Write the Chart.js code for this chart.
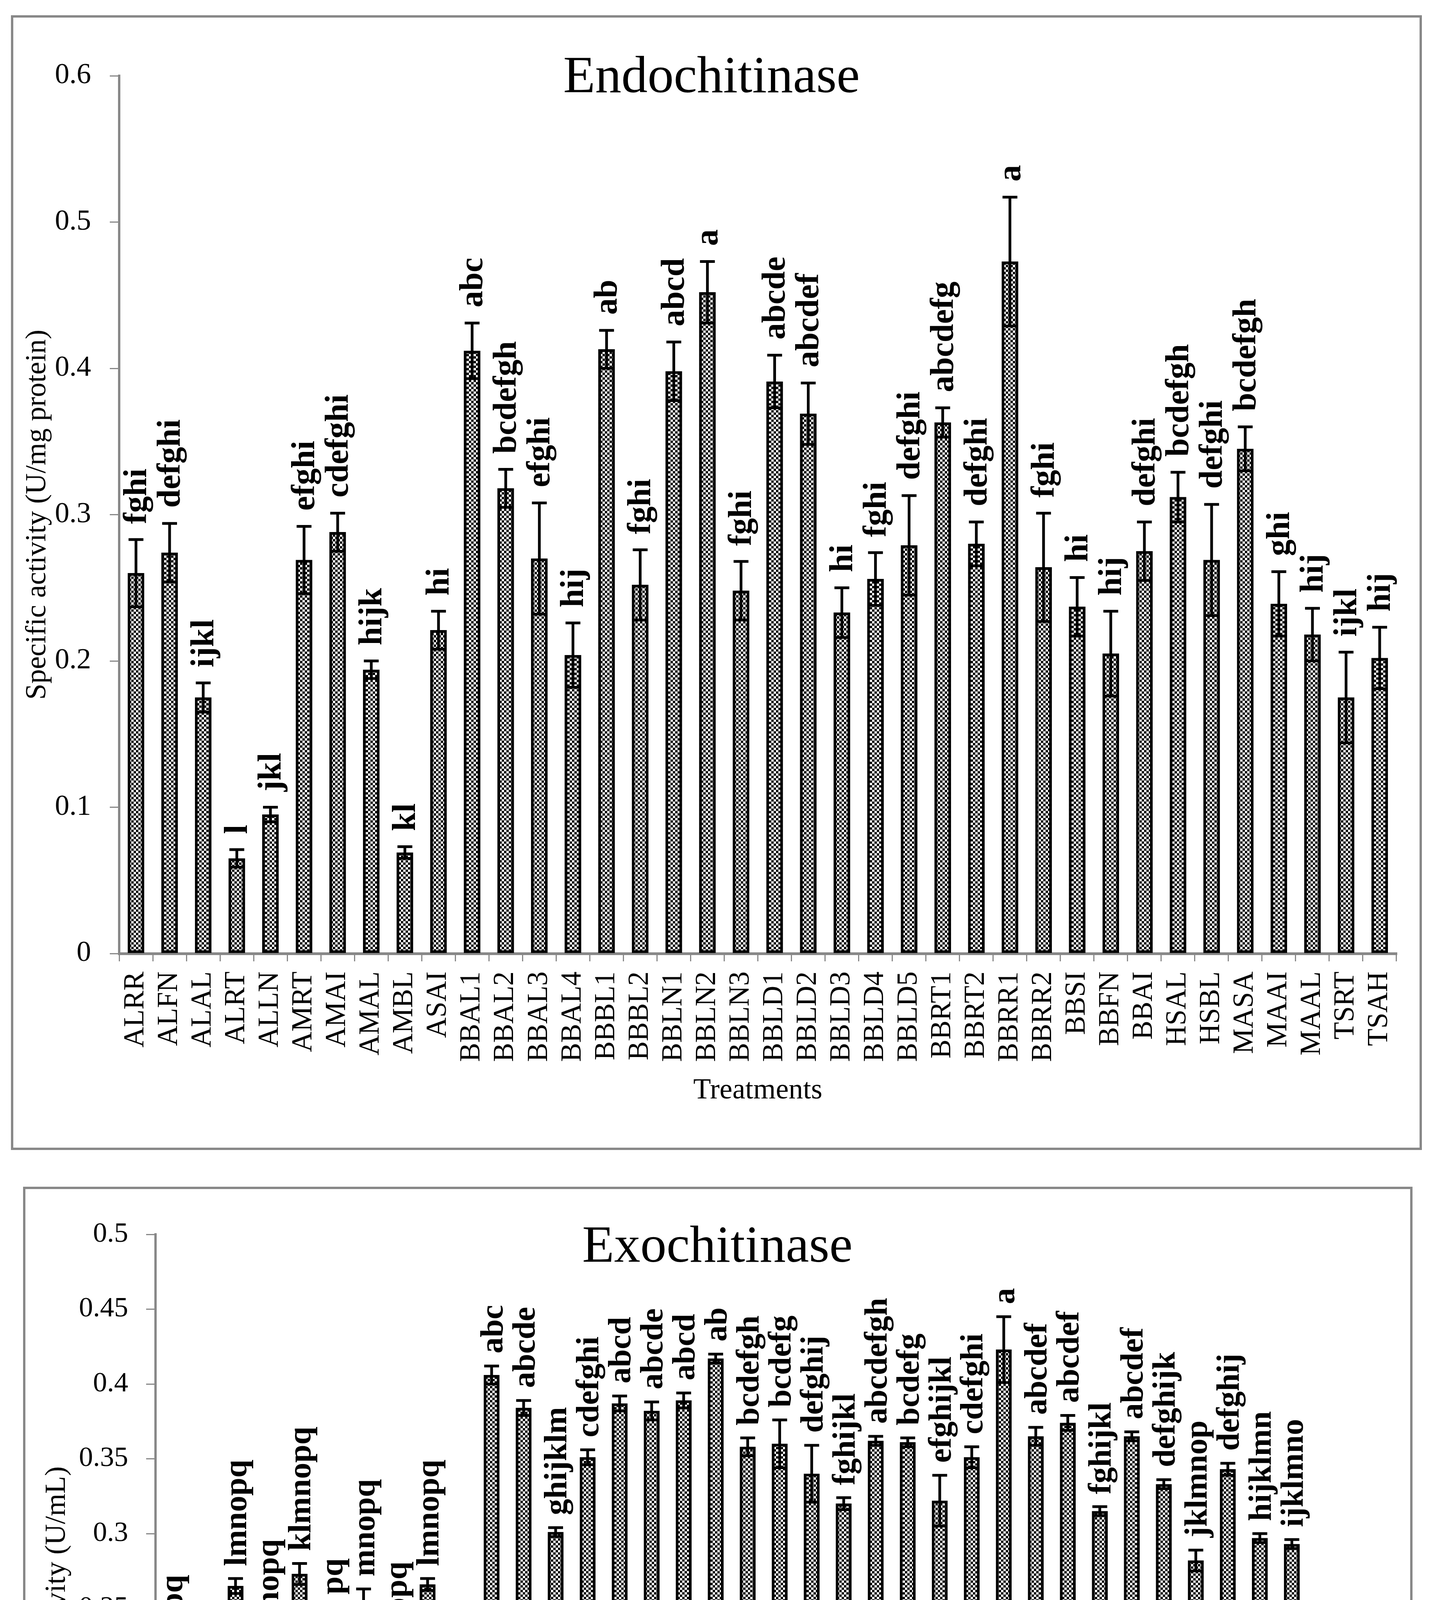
<!DOCTYPE html>
<html>
<head>
<meta charset="utf-8">
<script src="https://cdn.jsdelivr.net/npm/chart.js@4.4.1/dist/chart.umd.min.js"></script>
<style>
  body { margin: 0; background: #fff; width: 3670px; height: 5648px; position: relative; overflow: hidden; }
  #page { position: absolute; left: 0; top: 0; width: 3670px; height: 5648px; }
  canvas { position: absolute; left: 0; }
  .frame { position: absolute; border: 6px solid #888; box-sizing: border-box; pointer-events: none; }
</style>
</head>
<body>
<div id="page">
<div class="frame" style="left:28px;top:39px;width:3611px;height:2905px;"></div>
<div class="frame" style="left:59px;top:3038px;width:3556px;height:2578px;"></div>
<canvas id="endo" width="3670" height="2990" style="top:0;width:3670px;height:2990px;"></canvas>
<canvas id="exo" width="3670" height="2658" style="top:2990px;width:3670px;height:2658px;"></canvas>
</div>
<script>
// treatments (same order in both panels)
const treatments = ['ALRR','ALFN','ALAL','ALRT','ALLN','AMRT','AMAI','AMAL','AMBL','ASAI',
  'BBAL1','BBAL2','BBAL3','BBAL4','BBBL1','BBBL2','BBLN1','BBLN2','BBLN3',
  'BBLD1','BBLD2','BBLD3','BBLD4','BBLD5','BBRT1','BBRT2','BBRR1','BBRR2',
  'BBSI','BBFN','BBAI','HSAL','HSBL','MASA','MAAI','MAAL','TSRT','TSAH'];

// endochitinase, U/mg protein
const endoValues = [0.260, 0.274, 0.175, 0.065, 0.095, 0.269, 0.288, 0.194, 0.069, 0.221,
  0.412, 0.318, 0.270, 0.204, 0.413, 0.252, 0.398, 0.452, 0.248,
  0.391, 0.369, 0.233, 0.256, 0.279, 0.363, 0.280, 0.473, 0.264,
  0.237, 0.205, 0.275, 0.312, 0.269, 0.345, 0.239, 0.218, 0.175, 0.202];
const endoErrors = [0.023, 0.020, 0.010, 0.006, 0.005, 0.023, 0.013, 0.006, 0.004, 0.013,
  0.019, 0.013, 0.038, 0.022, 0.013, 0.024, 0.020, 0.021, 0.020,
  0.018, 0.021, 0.017, 0.018, 0.034, 0.010, 0.015, 0.044, 0.037,
  0.020, 0.029, 0.020, 0.017, 0.038, 0.015, 0.022, 0.018, 0.031, 0.021];
const endoLetters = ['fghi','defghi','ijkl','l','jkl','efghi','cdefghi','hijk','kl','hi',
  'abc','bcdefgh','efghi','hij','ab','fghi','abcd','a','fghi',
  'abcde','abcdef','hi','fghi','defghi','abcdefg','defghi','a','fghi',
  'hi','hij','defghi','bcdefgh','defghi','bcdefgh','ghi','hij','ijkl','hij'];
const endoTicks = ['0','0.1','0.2','0.3','0.4','0.5','0.6'];

// exochitinase, U/mL
const exoValues = [0.225, 0.217, 0.265, 0.237, 0.273, 0.230, 0.248, 0.232, 0.266, 0.077,
  0.406, 0.384, 0.301, 0.351, 0.387, 0.382, 0.389, 0.417, 0.358,
  0.360, 0.340, 0.320, 0.362, 0.361, 0.322, 0.351, 0.423, 0.365,
  0.374, 0.315, 0.365, 0.333, 0.282, 0.343, 0.297, 0.293, 0.117, 0.056];
const exoErrors = [0.015, 0.018, 0.005, 0.004, 0.007, 0.021, 0.015, 0.006, 0.004, 0.014,
  0.006, 0.005, 0.003, 0.005, 0.005, 0.006, 0.005, 0.003, 0.006,
  0.016, 0.019, 0.004, 0.003, 0.003, 0.017, 0.007, 0.022, 0.006,
  0.005, 0.003, 0.003, 0.003, 0.007, 0.004, 0.003, 0.003, 0.013, 0.022];
const exoLetters = ['pq','q','lmnopq','nopq','klmnopq','pq','mnopq','opq','lmnopq','r',
  'abc','abcde','ghijklm','cdefghi','abcd','abcde','abcd','ab','bcdefgh',
  'bcdefg','defghij','fghijkl','abcdefgh','bcdefg','efghijkl','cdefghi','a','abcdef',
  'abcdef','fghijkl','abcdef','defghijk','jklmnop','defghij','hijklmn','ijklmno','r','r'];
const exoTicks = ['0','0.05','0.1','0.15','0.2','0.25','0.3','0.35','0.4','0.45','0.5'];

const serif = 'Liberation Serif';

// checkered fill like the original bars
function checker() {
  const c = document.createElement('canvas');
  c.width = 12; c.height = 12;
  const g = c.getContext('2d');
  g.fillStyle = '#fff'; g.fillRect(0, 0, 12, 12);
  g.fillStyle = '#000'; g.fillRect(0, 0, 6, 6); g.fillRect(6, 6, 6, 6);
  return g.createPattern(c, 'repeat');
}

function makeChart(id, o) {
  const extras = {
    id: 'extras_' + id,
    afterDatasetsDraw(chart) {
      const ctx = chart.ctx;
      const ys = chart.scales.y;
      const bars = chart.getDatasetMeta(0).data;
      ctx.save();
      // error bars
      ctx.strokeStyle = '#000';
      ctx.lineWidth = 7;
      bars.forEach((bar, i) => {
        const top = ys.getPixelForValue(o.values[i] + o.errors[i]);
        const bot = ys.getPixelForValue(o.values[i] - o.errors[i]);
        ctx.beginPath();
        ctx.moveTo(bar.x, top); ctx.lineTo(bar.x, bot);
        ctx.moveTo(bar.x - 19, top); ctx.lineTo(bar.x + 19, top);
        ctx.moveTo(bar.x - 19, bot); ctx.lineTo(bar.x + 19, bot);
        ctx.stroke();
      });
      // significance letters
      ctx.fillStyle = '#000';
      ctx.font = 'bold ' + o.letterSize + 'px "' + serif + '"';
      ctx.textAlign = 'left';
      ctx.textBaseline = 'middle';
      bars.forEach((bar, i) => {
        const top = ys.getPixelForValue(o.values[i] + o.errors[i]);
        ctx.save();
        ctx.translate(bar.x + o.letterDx, top - o.letterGap);
        ctx.rotate(-Math.PI / 2);
        ctx.fillText(o.letters[i], 0, 0);
        ctx.restore();
      });
      // panel title
      ctx.font = '134px "' + serif + '"';
      ctx.textAlign = 'center';
      ctx.textBaseline = 'alphabetic';
      ctx.fillText(o.title, o.titleX, o.titleY);
      ctx.restore();
    }
  };

  return new Chart(document.getElementById(id), {
    type: 'bar',
    data: {
      labels: treatments,
      datasets: [{
        data: o.values,
        backgroundColor: checker(),
        borderColor: '#000',
        borderWidth: 7,
        borderSkipped: false,
        barThickness: o.barWidth
      }]
    },
    options: {
      responsive: false,
      animation: false,
      devicePixelRatio: 1,
      layout: { padding: o.padding },
      plugins: { legend: { display: false }, tooltip: { enabled: false } },
      scales: {
        x: {
          afterFit: s => { s.height = o.xHeight; },
          grid: { drawOnChartArea: false, offset: true, color: '#888', lineWidth: 3, tickLength: 20 },
          border: { color: '#888', width: 7 },
          ticks: {
            autoSkip: false, minRotation: 90, maxRotation: 90, padding: o.xPad,
            color: '#000', font: { family: serif, size: 73 },
            callback: (v, i) => (i % o.labelEvery === 0 ? treatments[i] : '')
          },
          title: {
            display: true, text: 'Treatments', color: '#000',
            font: { family: serif, size: 74 }, padding: { top: 0, bottom: o.xTitlePad }
          }
        },
        y: {
          min: 0, max: o.max,
          afterFit: s => { s.width = o.yWidth; },
          grid: { drawOnChartArea: false, color: '#888', lineWidth: 3, tickLength: 24 },
          border: { color: '#888', width: 6 },
          ticks: {
            stepSize: o.step, padding: o.yPad, color: '#000',
            font: { family: serif, size: o.tickSize },
            callback: (v, i) => o.ticks[i]
          },
          title: {
            display: true, text: o.yTitle, color: '#000',
            font: { family: serif, size: 74 }, padding: { top: o.yTitlePad, bottom: 0 }
          }
        }
      }
    },
    plugins: [extras]
  });
}

function draw() {
  makeChart('endo', {
    values: endoValues, errors: endoErrors, letters: endoLetters, ticks: endoTicks,
    title: 'Endochitinase', titleX: 1821, titleY: 236,
    yTitle: 'Specific activity (U/mg protein)',
    max: 0.6, step: 0.1, tickSize: 74,
    padding: { left: 0, top: 194, right: 96, bottom: 0 },
    yWidth: 305, xHeight: 549, xPad: 26, yPad: 48, xTitlePad: 153, yTitlePad: 52,
    barWidth: 42, labelEvery: 1, letterSize: 85, letterGap: 40, letterDx: 4
  });
  makeChart('exo', {
    values: exoValues, errors: exoErrors, letters: exoLetters, ticks: exoTicks,
    title: 'Exochitinase', titleX: 1836, titleY: 240,
    yTitle: 'Specific activity (U/mL)',
    max: 0.5, step: 0.05, tickSize: 72,
    padding: { left: 0, top: 170, right: 159, bottom: 0 },
    yWidth: 398, xHeight: 573, xPad: 30, yPad: 46, xTitlePad: 174, yTitlePad: 102,
    barWidth: 40, labelEvery: 2, letterSize: 83, letterGap: 32, letterDx: 6
  });
}

if (document.fonts && document.fonts.load) {
  Promise.all([
    document.fonts.load('74px "Liberation Serif"'),
    document.fonts.load('bold 85px "Liberation Serif"')
  ]).then(draw, draw);
} else {
  draw();
}
</script>
</body>
</html>
